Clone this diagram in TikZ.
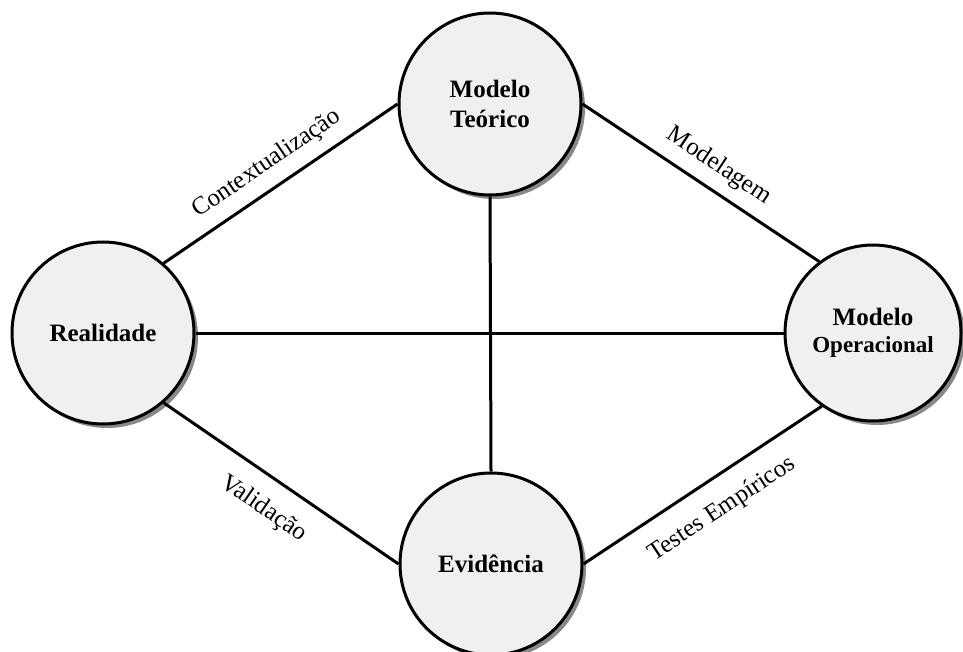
\documentclass[tikz,border=0pt]{standalone}
\usepackage{fontspec}
\setmainfont{Liberation Serif}
\usetikzlibrary{shadows}
\definecolor{fillgray}{HTML}{F0F0F0}
\begin{document}
\begin{tikzpicture}[x=1pt,y=-1pt,
  concept/.style={circle, draw=black, line width=3pt, fill=fillgray,
    minimum size=182pt, inner sep=0pt, align=center,
    font=\fontsize{25}{30}\selectfont\bfseries,
    drop shadow={shadow xshift=4pt, shadow yshift=-4pt, fill=black!55, opacity=0.85}},
  link/.style={line width=3pt},
  lbl/.style={font=\fontsize{25}{29}\selectfont, sloped, inner sep=0pt, anchor=base}]
\useasboundingbox (0,0) rectangle (963,652);
\node[concept] (T) at (490,104) {Modelo\\Teórico};
\node[concept] (R) at (103,333) {Realidade};
\node[concept, minimum size=176pt] (O) at (873,333) {Modelo\\[-3pt]{\fontsize{23}{28}\selectfont Operacional}};
\node[concept] (E) at (491,564) {Evidência};
\draw[link] (R.49) -- node[lbl, pos=0.5, yshift=18pt] {Contextualização} (T.west);
\draw[link] (T.east) -- node[lbl, pos=0.52, yshift=18pt] {Modelagem} (O.127);
\draw[link] (E.east) -- node[lbl, pos=0.51, yshift=-37pt] {Testes Empíricos} (O.235);
\draw[link] (R.-49) -- node[lbl, pos=0.5, yshift=-37pt] {Validação} (E.west);
\draw[link] (R.east) -- (O.west);
\draw[link] (T.south) -- (E.north);
\end{tikzpicture}
\end{document}
